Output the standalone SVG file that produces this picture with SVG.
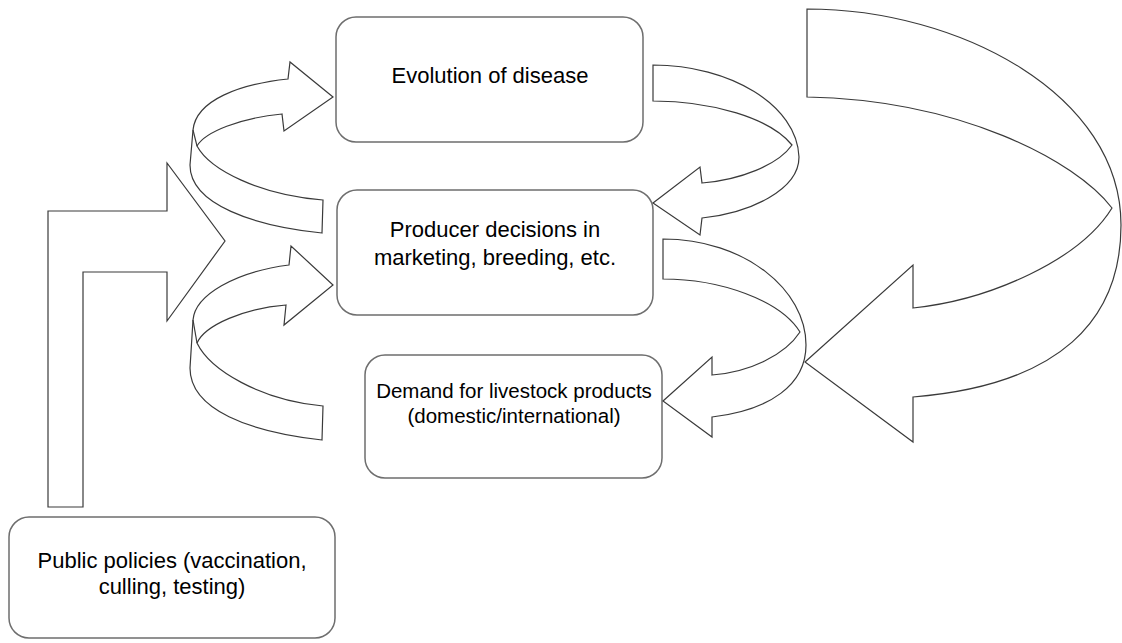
<svg xmlns="http://www.w3.org/2000/svg" width="1122" height="643" viewBox="0 0 1122 643">
<style>
.box{fill:#fff;stroke:#6e6e6e;stroke-width:1.5}
.arr{fill:#fff;stroke:#3a3a3a;stroke-width:1.2;stroke-linejoin:miter}
.ln{fill:none;stroke:#3a3a3a;stroke-width:1.2}
text{font-family:"Liberation Sans",Arial,sans-serif;font-size:22px;fill:#000;text-anchor:middle}
.sm{font-size:20.5px}
</style>
<rect width="1122" height="643" fill="#fff"/>
<g id="evolution">
<rect class="box" x="336" y="17" width="307" height="125" rx="20"/>
<text x="490" y="83">Evolution of disease</text>
</g>
<g id="producer">
<rect class="box" x="337" y="190" width="316" height="125" rx="20"/>
<text x="495" y="237">Producer decisions in</text>
<text x="495" y="265">marketing, breeding, etc.</text>
</g>
<g id="demand">
<rect class="box" x="365" y="355" width="297" height="123" rx="20"/>
<text class="sm" x="514" y="398">Demand for livestock products</text>
<text class="sm" x="514" y="423">(domestic/international)</text>
</g>
<g id="public">
<rect class="box" x="9" y="517" width="326" height="121" rx="20"/>
<text x="172" y="568">Public policies (vaccination,</text>
<text x="172" y="594">culling, testing)</text>
</g>
<g id="connectors">
<path class="arr" d="M48,507 L48,211 L167,211 L167,163 L225,241 L167,321 L167,272 L83,272 L83,507 Z"/>
<path class="arr" d="M322,233 C255,226 190,205 190,165 L193,130 C196,100 240,84 288,79 L290,62 L333,97 L284,131 L282,114 C240,118 205,132 197,146 C210,170 260,195 323,200 Z"/>
<path class="ln" d="M193,130 L197,146"/>
<path class="arr" d="M322,440 C250,432 190,410 190,368 L193,320 C195,295 235,272 289,265 L291,246 L333,285 L284,325 L286,305 C245,308 205,325 197,343 C210,370 260,400 323,406 Z"/>
<path class="ln" d="M193,320 L197,343"/>
<path class="arr" d="M653,65 C730,65 797,105 799,157 C799,190 750,213 702,218 L700,235 L653,203 L700,167 L702,183 C740,180 778,165 792,145 C770,118 712,101 653,101 Z"/>
<path class="arr" d="M663,239 C745,239 806,290 806,345 C806,385 770,410 712,417 L712,437 L663,401 L712,357 L712,375 C750,372 785,355 800,332 C780,300 720,279 663,279 Z"/>
<path class="arr" d="M807,9 C960,9 1121,95 1121,225 C1121,320 1060,385 913,397 L913,442 L805,362 L913,265 L913,308 C990,300 1080,260 1112,208 C1075,160 960,100 807,97 Z"/>
</g>
</svg>
